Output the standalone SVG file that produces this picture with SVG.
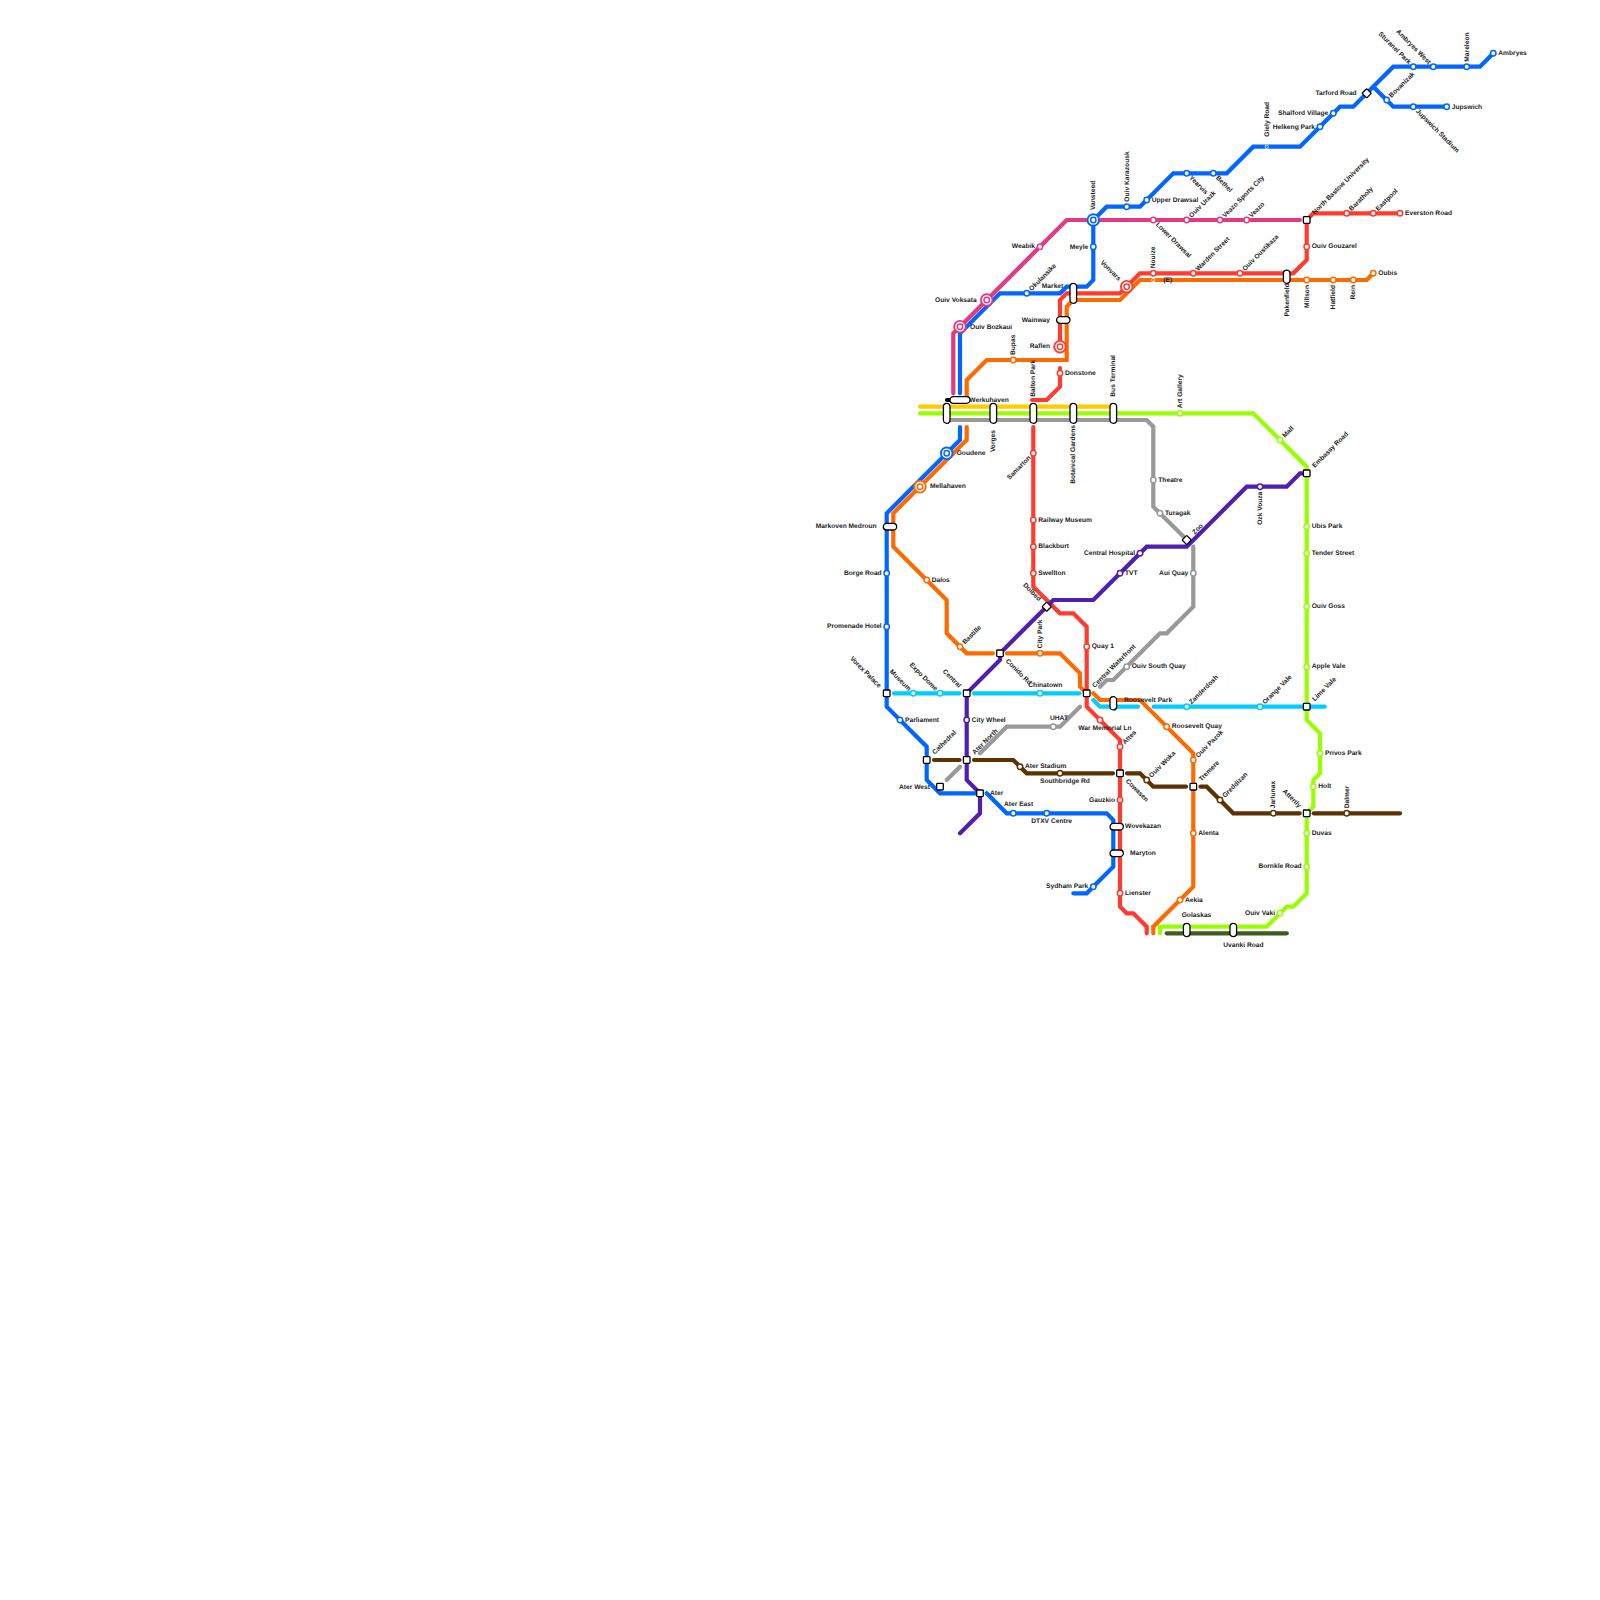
<svg xmlns="http://www.w3.org/2000/svg" width="1600" height="1600" viewBox="0 0 1600 1600">
<style>
text{font-family:"Liberation Sans",Arial,sans-serif;font-size:6.67px;font-weight:bold;fill:#1c1c1c;text-rendering:geometricPrecision}
.e{text-anchor:end}
.ln path{fill:none;stroke-width:4.2;stroke-linecap:round;stroke-linejoin:miter}
.lb{stroke:#0066ff}.lp{stroke:#e5397f}.lr{stroke:#ff3b30}.lo{stroke:#ff6a00}.ly{stroke:#ffcc00}.lg{stroke:#99ff00}.la{stroke:#999}.lu{stroke:#4f1fb0}.ln .ld{stroke:#5a3300}.lc{stroke:#00ccff}.lk{stroke:#3f5c1f}
circle{fill:#fff;stroke-width:1.5}
circle.ring{stroke-width:1.9}
.b{stroke:#0066ff}.p{stroke:#e5397f}.r{stroke:#ff3b30}.o{stroke:#ff6a00}.g{stroke:#99ff00}.a{stroke:#999}.u{stroke:#4f1fb0}.d{stroke:#5a3300}.c{stroke:#00ccff}
.x{fill:#fff;stroke:#000;stroke-width:1.3}
</style>
<defs>
<rect id="sq" class="x" x="-3.3" y="-3.3" width="6.6" height="6.6" rx="0.8"/>
<rect id="di" class="x" x="-3.3" y="-3.3" width="6.6" height="6.6" rx="0.8" transform="rotate(45)"/>
<rect id="v20" class="x" x="-3.3" y="-10" width="6.6" height="20" rx="3.3"/>
<rect id="v13" class="x" x="-3.3" y="-6.67" width="6.6" height="13.33" rx="3.3"/>
<rect id="h13" class="x" x="-6.67" y="-3.3" width="13.33" height="6.6" rx="3.3"/>
<rect id="h20" class="x" x="-10" y="-3.3" width="20" height="6.6" rx="3.3"/>
</defs>
<g id="connectors" class="ln">
<path class="ly" d="M920 406.7H1113.3"/>
<path class="lg" d="M920 413.3H1253.3L1306.7 466.7V720L1320 733.3V773.3L1313.3 780V806.7L1306.7 813.3V893.3L1293.3 906.7H1286.7L1266.7 926.7H1160V933.3"/>
<path class="la" d="M946.7 420H1146.7L1153.3 426.7V506.7L1183 536"/>
<path class="la" d="M1193.3 546.7V606.7L1166.7 633.3H1160L1113.3 680H1106.7L1100 686.7"/>
<path class="la" d="M1080 706.7L1060 726.7H1006.7L980 753.3"/>
<path class="la" d="M960 766.7L946.7 780"/>
<path class="lk" d="M1166.7 933.3H1286.7"/>
<path class="lp" d="M1300 220H1066.7L960 326.7L953.3 333.3V393.3"/>
<path class="lb" d="M1493.3 53.3L1480 66.7H1393.3L1353.3 106.7H1340L1300 146.7H1253.3L1226.7 173.3H1173.3L1140 206.7H1106.7L1093.3 220V280L1086.7 286.7H1066.7L1060 293.3H1000L960 333.3V393.3"/>
<path class="lb" d="M1373.3 86.7L1393.3 106.7H1446.7"/>
<path class="lb" d="M960 427V440L886.7 513.3V706.7L926.7 746.7V780L940 793.3H977"/>
<path class="lb" d="M986.7 793.3L1006.7 813.3H1106.7L1113.3 820V866.7L1086.7 893.3H1073.3"/>
<path class="lo" d="M1373.3 273.3L1366.7 280H1140L1120 300H1073.3L1066.7 306.7V360H986.7L966.7 380V396"/>
<path class="lo" d="M966.7 427V440L893.3 513.3V546.7L946.7 600V633.3L966.7 653.3H993"/>
<path class="lo" d="M1007 653.3H1060L1080 673.3V686.7L1086.7 693.3"/>
<path class="lo" d="M1093.3 693.3L1100 700H1140L1193.3 753.3V886.7L1153.3 926.7V933.3"/>
<path class="lr" d="M1400 213.3H1313.3L1306.7 220V260L1293.3 273.3H1140L1120 293.3H1066.7L1060 300V346.7"/>
<path class="lr" d="M1060 368V386.7L1046.7 400H1032"/>
<path class="lr" d="M1033.3 427V586.7L1060 613.3H1073.3L1086.7 626.7V706.7L1120 740V906.7L1126.7 913.3H1133.3L1146.7 926.7V933.3"/>
<path class="lc" d="M894 693.3H959.5"/>
<path class="lc" d="M974 693.3H1079.5"/>
<path class="lc" d="M1093.3 700L1100 706.7H1138"/>
<path class="lc" d="M1153.7 706.7H1324.7"/>
<path class="lu" d="M1306.7 473.3H1300L1286.7 486.7H1246.7L1186.7 546.7H1146.7L1093.3 600H1053.3L1000 653.3V660L966.7 693.3V780L980 793.3V813.3L960 833.3"/>
<path class="ld" d="M934 760H959.5"/>
<path class="ld" d="M974 760H1013.3L1026.7 773.3H1113"/>
<path class="ld" d="M1127 773.3H1140L1153.3 786.7H1186"/>
<path class="ld" d="M1200.5 786.7H1206.7L1233.3 813.3H1299.7"/>
<path class="ld" d="M1313.7 813.3H1400"/>
<path d="M947 400H953" style="stroke:#000"/>
</g>
<g id="nodes">
<g id="n-ambryes"><circle class="b" cx="1493.3" cy="53.3" r="2.7"/><text x="1498.3" y="55.3">Ambryes</text></g>
<g id="n-mareleon"><circle class="b" cx="1466.7" cy="66.7" r="2.7"/><text transform="translate(1466.7 61.7) rotate(-90)" y="2">Mareleon</text></g>
<g id="n-ambryes-west"><circle class="b" cx="1433.3" cy="66.7" r="2.7"/><text class="e" transform="translate(1429.8 63.2) rotate(45)" y="2">Ambryes West</text></g>
<g id="n-sturanel"><circle class="b" cx="1413.3" cy="66.7" r="2.7"/><text class="e" transform="translate(1409.8 63.2) rotate(45)" y="2">Sturanel Park</text></g>
<g id="n-tarford"><use href="#di" x="1366.7" y="93.3"/><text class="e" x="1356.7" y="95.3">Tarford Road</text></g>
<g id="n-bovanizak"><circle class="b" cx="1386.7" cy="100" r="2.7"/><text transform="translate(1390.2 96.5) rotate(-45)" y="2">Bovanizak</text></g>
<g id="n-jupswich-stadium"><circle class="b" cx="1413.3" cy="106.7" r="2.7"/><text transform="translate(1416.8 110.2) rotate(45)" y="2">Jupswich Stadium</text></g>
<g id="n-jupswich"><circle class="b" cx="1446.7" cy="106.7" r="2.7"/><text x="1451.7" y="108.7">Jupswich</text></g>
<g id="n-shalford"><circle class="b" cx="1333.3" cy="113.3" r="2.7"/><text class="e" x="1328.3" y="115.3">Shalford Village</text></g>
<g id="n-helkeng"><circle class="b" cx="1320" cy="126.7" r="2.7"/><text class="e" x="1315" y="128.7">Helkeng Park</text></g>
<g id="n-giely"><circle cx="1266.7" cy="146.7" r="2" style="stroke:none"/><circle class="b" cx="1266.7" cy="146.7" r="0.5" style="fill:#0066ff"/><text transform="translate(1266.7 136.7) rotate(-90)" y="2">Giely Road</text></g>
<g id="n-bethel"><circle class="b" cx="1213.3" cy="173.3" r="2.7"/><text transform="translate(1216.8 176.8) rotate(45)" y="2">Bethel</text></g>
<g id="n-yearvis"><circle class="b" cx="1186.7" cy="173.3" r="2.7"/><text transform="translate(1190.2 176.8) rotate(45)" y="2">Yearvis</text></g>
<g id="n-upper-drawsal"><circle class="b" cx="1146.7" cy="200" r="2.7"/><text x="1151.7" y="202">Upper Drawsal</text></g>
<g id="n-karazousk"><circle class="b" cx="1126.7" cy="206.7" r="2.7"/><text transform="translate(1126.7 201.7) rotate(-90)" y="2">Ouiv Karazousk</text></g>
<g id="n-vansteed"><circle class="b ring" cx="1093.3" cy="220" r="5.8"/><circle class="b" cx="1093.3" cy="220" r="2.7"/><text transform="translate(1093.3 210) rotate(-90)" y="2">Vansteed</text></g>
<g id="n-meyle"><circle class="b" cx="1093.3" cy="246.7" r="2.7"/><text class="e" x="1088.3" y="248.7">Meyle</text></g>
<g id="n-market"><use href="#v20" x="1073.3" y="293.3"/><text class="e" x="1063.3" y="288">Market</text></g>
<g id="n-okulansike"><circle class="b" cx="1026.7" cy="293.3" r="2.7"/><text transform="translate(1030.2 289.8) rotate(-45)" y="2">Okulansike</text></g>
<g id="n-bozkaui"><circle class="p ring" cx="960" cy="326.7" r="5.8"/><circle class="p" cx="960" cy="326.7" r="2.7"/><text x="970" y="328.7">Ouiv Bozkaui</text></g>
<g id="n-voksata"><circle class="p ring" cx="986.7" cy="300" r="5.8"/><circle class="p" cx="986.7" cy="300" r="2.7"/><text class="e" x="976.7" y="302">Ouiv Voksata</text></g>
<g id="n-goudene"><circle class="b ring" cx="946.7" cy="453.3" r="5.8"/><circle class="b" cx="946.7" cy="453.3" r="2.7"/><text x="956.7" y="455">Goudene</text></g>
<g id="n-mellahaven"><circle class="o ring" cx="920" cy="486.7" r="5.8"/><circle class="o" cx="920" cy="486.7" r="2.7"/><text x="930" y="488.4">Mellahaven</text></g>
<g id="n-markoven"><use href="#h13" x="890" y="526.7"/><text class="e" x="876.7" y="528.4">Markoven Medroun</text></g>
<g id="n-borge"><circle class="b" cx="886.7" cy="573.3" r="2.7"/><text class="e" x="881.7" y="575">Borge Road</text></g>
<g id="n-promenade"><circle class="b" cx="886.7" cy="626.7" r="2.7"/><text class="e" x="881.7" y="628.4">Promenade Hotel</text></g>
<g id="n-vorex"><use href="#sq" x="886.7" y="693.3"/><text class="e" transform="translate(880 686.6) rotate(45)" y="2">Vorex Palace</text></g>
<g id="n-museum"><circle class="c" cx="913.3" cy="693.3" r="2.7"/><text class="e" transform="translate(909.8 689.8) rotate(45)" y="2">Museum</text></g>
<g id="n-expo"><circle class="c" cx="940" cy="693.3" r="2.7"/><text class="e" transform="translate(936.5 689.8) rotate(45)" y="2">Expo Dome</text></g>
<g id="n-central"><use href="#sq" x="966.7" y="693.3"/><text class="e" transform="translate(960 686.6) rotate(45)" y="2">Central</text></g>
<g id="n-parliament"><circle class="b" cx="900" cy="720" r="2.7"/><text x="905" y="722">Parliament</text></g>
<g id="n-city-wheel"><circle class="u" cx="966.7" cy="720" r="2.7"/><text x="971.7" y="722">City Wheel</text></g>
<g id="n-cathedral"><use href="#sq" x="926.7" y="760"/><text transform="translate(933.4 753.3) rotate(-45)" y="2">Cathedral</text></g>
<g id="n-ater-north"><use href="#sq" x="966.7" y="760"/><text transform="translate(973.4 753.3) rotate(-45)" y="2">Ater North</text></g>
<g id="n-ater-west"><use href="#sq" x="940" y="786.7"/><text class="e" x="930" y="788.6">Ater West</text></g>
<g id="n-ater"><use href="#sq" x="980" y="793.3"/><text x="990" y="795">Ater</text></g>
<g id="n-ater-east"><circle class="b" cx="1013.3" cy="813.3" r="2.7"/><text x="1004" y="806.4">Ater East</text></g>
<g id="n-dtxv"><circle class="b" cx="1046.7" cy="813.3" r="2.7"/><text x="1031.3" y="823">DTXV Centre</text></g>
<g id="n-sydham"><circle class="b" cx="1093.3" cy="886.7" r="2.7"/><text class="e" x="1088.3" y="888.4">Sydham Park</text></g>
<g id="n-conido"><use href="#sq" x="1000" y="653.3"/><text transform="translate(1006.7 660) rotate(45)" y="2">Conido Rd</text></g>
<g id="n-chinatown"><circle class="c" cx="1040" cy="693.3" r="2.7"/><text x="1028.3" y="686.5">Chinatown</text></g>
<g id="n-uhat"><circle class="a" cx="1053.3" cy="726.7" r="2.7"/><text x="1050" y="719.5">UHAT</text></g>
<g id="n-ater-stadium"><circle class="d" cx="1020" cy="766.7" r="2.7"/><text x="1025" y="767.8">Ater Stadium</text></g>
<g id="n-southbridge"><circle class="d" cx="1060" cy="773.3" r="2.7"/><text x="1040" y="783">Southbridge Rd</text></g>
<g id="n-bastille"><circle class="o" cx="960" cy="646.7" r="2.7"/><text transform="translate(963.5 643.2) rotate(-45)" y="2">Bastille</text></g>
<g id="n-city-park"><circle class="o" cx="1040" cy="653.3" r="2.7"/><text transform="translate(1040 648.3) rotate(-90)" y="2">City Park</text></g>
<g id="n-dalos"><circle class="o" cx="926.7" cy="580" r="2.7"/><text x="931.7" y="581.8">Dalos</text></g>
<g id="n-bupas"><circle class="o" cx="1013.3" cy="360" r="2.7"/><text transform="translate(1013.3 355) rotate(-90)" y="2">Bupas</text></g>
<g id="n-balton"><use href="#v20" x="1033.3" y="413.3"/><text transform="translate(1033.3 396.7) rotate(-90)" y="2">Balton Park</text></g>
<g id="n-vorges"><use href="#v20" x="993.3" y="413.3"/><text class="e" transform="translate(993.3 430) rotate(-90)" y="2">Vorges</text></g>
<g id="n-botanical"><use href="#v20" x="1073.3" y="413.3"/><text class="e" transform="translate(1073.3 425) rotate(-90)" y="2">Botanical Gardens</text></g>
<g id="n-bus-terminal"><use href="#v20" x="1113.3" y="413.3"/><text transform="translate(1113.3 396.7) rotate(-90)" y="2">Bus Terminal</text></g>
<g id="n-west-pill"><use href="#v20" x="946.7" y="413.3"/></g>
<g id="n-werkuhaven"><use href="#h20" x="960" y="400"/><text x="969.3" y="401.6">Werkuhaven</text></g>
<g id="n-weabik"><circle class="p" cx="1040" cy="246.7" r="2.7"/><text class="e" x="1035" y="248.4">Weabik</text></g>
<g id="n-lower-drawsal"><circle class="p" cx="1153.3" cy="220" r="2.7"/><text transform="translate(1156.8 223.5) rotate(45)" y="2">Lower Drawsal</text></g>
<g id="n-urazk"><circle class="p" cx="1186.7" cy="220" r="2.7"/><text transform="translate(1190.2 216.5) rotate(-45)" y="2">Ouiv Urazk</text></g>
<g id="n-veazo-sc"><circle class="p" cx="1220" cy="220" r="2.7"/><text transform="translate(1223.5 216.5) rotate(-45)" y="2">Veazo Sports City</text></g>
<g id="n-veazo"><circle class="p" cx="1246.7" cy="220" r="2.7"/><text transform="translate(1250.2 216.5) rotate(-45)" y="2">Veazo</text></g>
<g id="n-bastow"><use href="#sq" x="1306.7" y="220"/><text transform="translate(1313.4 213.3) rotate(-45)" y="2">North Bastow University</text></g>
<g id="n-baratholy"><circle class="r" cx="1346.7" cy="213.3" r="2.7"/><text transform="translate(1350.2 209.8) rotate(-45)" y="2">Baratholy</text></g>
<g id="n-eastpool"><circle class="r" cx="1373.3" cy="213.3" r="2.7"/><text transform="translate(1376.8 209.8) rotate(-45)" y="2">Eastpool</text></g>
<g id="n-everston"><circle class="r" cx="1400" cy="213.3" r="2.7"/><text x="1405" y="215">Everston Road</text></g>
<g id="n-gouzarel"><circle class="r" cx="1306.7" cy="246.7" r="2.7"/><text x="1311.7" y="248.4">Ouiv Gouzarel</text></g>
<g id="n-oustikaza"><circle class="r" cx="1240" cy="273.3" r="2.7"/><text transform="translate(1243.5 269.8) rotate(-45)" y="2">Ouiv Oustikaza</text></g>
<g id="n-warden"><circle class="r" cx="1193.3" cy="273.3" r="2.7"/><text transform="translate(1196.8 269.8) rotate(-45)" y="2">Warden Street</text></g>
<g id="n-nouize"><circle class="r" cx="1153.3" cy="273.3" r="2.7"/><text transform="translate(1153.3 268.3) rotate(-90)" y="2">Nouize</text></g>
<g id="n-e"><circle cx="1153.3" cy="280" r="2" style="stroke:none"/><circle class="o" cx="1153.3" cy="280" r="0.5" style="fill:#ff6a00"/><text x="1163.3" y="282">(E)</text></g>
<g id="n-vonvars"><circle class="r ring" cx="1126.7" cy="286.7" r="5.8"/><circle class="r" cx="1126.7" cy="286.7" r="2.7"/><text class="e" transform="translate(1119.7 279.7) rotate(45)" y="2">Vonvars</text></g>
<g id="n-pakenfield"><use href="#v13" x="1286.7" y="276.7"/><text class="e" transform="translate(1286.7 283.3) rotate(-90)" y="2">Pakenfield</text></g>
<g id="n-millson"><circle class="o" cx="1306.7" cy="280" r="2.7"/><text class="e" transform="translate(1306.7 285) rotate(-90)" y="2">Millson</text></g>
<g id="n-hatfield"><circle class="o" cx="1333.3" cy="280" r="2.7"/><text class="e" transform="translate(1333.3 285) rotate(-90)" y="2">Hatfield</text></g>
<g id="n-rein"><circle class="o" cx="1353.3" cy="280" r="2.7"/><text class="e" transform="translate(1353.3 285) rotate(-90)" y="2">Rein</text></g>
<g id="n-oubis"><circle class="o" cx="1373.3" cy="273.3" r="2.7"/><text x="1378.3" y="275">Oubis</text></g>
<g id="n-wainway"><use href="#h13" x="1063.3" y="320"/><text class="e" x="1050" y="321.7">Wainway</text></g>
<g id="n-raflen"><circle class="r ring" cx="1060" cy="346.7" r="5.8"/><circle class="r" cx="1060" cy="346.7" r="2.7"/><text class="e" x="1050" y="348.4">Raflen</text></g>
<g id="n-donstone"><circle class="r" cx="1060" cy="373.3" r="2.7"/><text x="1065" y="375">Donstone</text></g>
<g id="n-art-gallery"><circle class="g" cx="1180" cy="413.3" r="2.7"/><text transform="translate(1180 408.3) rotate(-90)" y="2">Art Gallery</text></g>
<g id="n-mall"><circle class="g" cx="1280" cy="440" r="2.7"/><text transform="translate(1283.5 436.5) rotate(-45)" y="2">Mall</text></g>
<g id="n-embassy"><use href="#sq" x="1306.7" y="473.3"/><text transform="translate(1313.4 466.6) rotate(-45)" y="2">Embassy Road</text></g>
<g id="n-ubis"><circle class="g" cx="1306.7" cy="526.7" r="2.7"/><text x="1311.7" y="528.4">Ubis Park</text></g>
<g id="n-tender"><circle class="g" cx="1306.7" cy="553.3" r="2.7"/><text x="1311.7" y="555">Tender Street</text></g>
<g id="n-goss"><circle class="g" cx="1306.7" cy="606.7" r="2.7"/><text x="1311.7" y="608.4">Ouiv Goss</text></g>
<g id="n-apple"><circle class="g" cx="1306.7" cy="666.7" r="2.7"/><text x="1311.7" y="668.4">Apple Vale</text></g>
<g id="n-lime"><use href="#sq" x="1306.7" y="706.7"/><text transform="translate(1313.4 700) rotate(-45)" y="2">Lime Vale</text></g>
<g id="n-privos"><circle class="g" cx="1320" cy="753.3" r="2.7"/><text x="1325" y="755">Privos Park</text></g>
<g id="n-holt"><circle class="g" cx="1313.3" cy="786.7" r="2.7"/><text x="1318.3" y="788.4">Holt</text></g>
<g id="n-atterily"><use href="#sq" x="1306.7" y="813.3"/><text class="e" transform="translate(1300 806.6) rotate(45)" y="2">Atterily</text></g>
<g id="n-duvas"><circle class="g" cx="1306.7" cy="833.3" r="2.7"/><text x="1311.7" y="835">Duvas</text></g>
<g id="n-bornkle"><circle class="g" cx="1306.7" cy="866.7" r="2.7"/><text class="e" x="1301.7" y="868.4">Bornkle Road</text></g>
<g id="n-vaki"><circle class="g" cx="1280" cy="913.3" r="2.7"/><text class="e" x="1275" y="915">Ouiv Vaki</text></g>
<g id="n-dalmer"><circle class="d" cx="1346.7" cy="813.3" r="2.7"/><text transform="translate(1346.7 808.3) rotate(-90)" y="2">Dalmer</text></g>
<g id="n-jarlunax"><circle class="d" cx="1273.3" cy="813.3" r="2.7"/><text transform="translate(1273.3 808.3) rotate(-90)" y="2">Jarlunax</text></g>
<g id="n-greddizan"><circle class="d" cx="1220" cy="800" r="2.7"/><text transform="translate(1223.5 796.5) rotate(-45)" y="2">Greddizan</text></g>
<g id="n-tremere"><use href="#sq" x="1193.3" y="786.7"/><text transform="translate(1200 780) rotate(-45)" y="2">Tremere</text></g>
<g id="n-cowasen"><use href="#sq" x="1120" y="773.3"/><text transform="translate(1126.7 780) rotate(45)" y="2">Cowasen</text></g>
<g id="n-gauzkio"><circle class="r" cx="1120" cy="800" r="2.7"/><text class="e" x="1115" y="801.7">Gauzkio</text></g>
<g id="n-wovekazan"><use href="#h13" x="1116.7" y="826.7"/><text x="1125" y="828.3">Wovekazan</text></g>
<g id="n-maryton"><use href="#h13" x="1116.7" y="853.3"/><text x="1130" y="855">Maryton</text></g>
<g id="n-lienster"><circle class="r" cx="1120" cy="893.3" r="2.7"/><text x="1125" y="895">Lienster</text></g>
<g id="n-aekia"><circle class="o" cx="1180" cy="900" r="2.7"/><text x="1185" y="901.7">Aekia</text></g>
<g id="n-alenta"><circle class="o" cx="1193.3" cy="833.3" r="2.7"/><text x="1198.3" y="835">Alenta</text></g>
<g id="n-pazok"><circle class="o" cx="1193.3" cy="760" r="2.7"/><text transform="translate(1196.8 756.5) rotate(-45)" y="2">Ouiv Pazok</text></g>
<g id="n-roosevelt-quay"><circle class="o" cx="1166.7" cy="726.7" r="2.7"/><text x="1171.7" y="728.4">Roosevelt Quay</text></g>
<g id="n-roosevelt-park"><use href="#v13" x="1113.3" y="703.3"/><text x="1124" y="701.6">Roosevelt Park</text></g>
<g id="n-zanderdosh"><circle class="c" cx="1186.7" cy="706.7" r="2.7"/><text transform="translate(1190.2 703.2) rotate(-45)" y="2">Zanderdosh</text></g>
<g id="n-orange-vale"><circle class="c" cx="1260" cy="706.7" r="2.7"/><text transform="translate(1263.5 703.2) rotate(-45)" y="2">Orange Vale</text></g>
<g id="n-woka"><circle class="d" cx="1146.7" cy="780" r="2.7"/><text transform="translate(1150.2 776.5) rotate(-45)" y="2">Ouiv Woka</text></g>
<g id="n-attes"><circle class="r" cx="1120" cy="746.7" r="2.7"/><text transform="translate(1123.5 743.2) rotate(-45)" y="2">Attes</text></g>
<g id="n-war-memorial"><circle class="r" cx="1100" cy="720" r="2.7"/><text x="1078.3" y="729.5">War Memorial Ln</text></g>
<g id="n-waterfront"><use href="#sq" x="1086.7" y="693.3"/><text transform="translate(1093.4 686.6) rotate(-45)" y="2">Central Waterfront</text></g>
<g id="n-south-quay"><circle class="a" cx="1126.7" cy="666.7" r="2.7"/><text x="1131.7" y="668.4">Ouiv South Quay</text></g>
<g id="n-quay1"><circle class="r" cx="1086.7" cy="646.7" r="2.7"/><text x="1091.7" y="648.4">Quay 1</text></g>
<g id="n-swellton"><circle class="r" cx="1033.3" cy="573.3" r="2.7"/><text x="1038.3" y="575">Swellton</text></g>
<g id="n-blackburt"><circle class="r" cx="1033.3" cy="546.7" r="2.7"/><text x="1038.3" y="548.4">Blackburt</text></g>
<g id="n-railway"><circle class="r" cx="1033.3" cy="520" r="2.7"/><text x="1038.3" y="521.7">Railway Museum</text></g>
<g id="n-samarton"><circle class="r" cx="1033.3" cy="453.3" r="2.7"/><text class="e" transform="translate(1029.8 456.8) rotate(-45)" y="2">Samarton</text></g>
<g id="n-dolbed"><use href="#di" x="1046.7" y="606.7"/><text class="e" transform="translate(1040 600) rotate(45)" y="2">Dolbed</text></g>
<g id="n-tvt"><circle class="u" cx="1120" cy="573.3" r="2.7"/><text x="1125" y="575">TVT</text></g>
<g id="n-hospital"><circle class="u" cx="1140" cy="553.3" r="2.7"/><text class="e" x="1135" y="555">Central Hospital</text></g>
<g id="n-ozk"><circle class="u" cx="1260" cy="486.7" r="2.7"/><text class="e" transform="translate(1260 491.7) rotate(-90)" y="2">Ozk Vouza</text></g>
<g id="n-zoo"><use href="#di" x="1186.7" y="540"/><text transform="translate(1193.4 533.3) rotate(-45)" y="2">Zoo</text></g>
<g id="n-theatre"><circle class="a" cx="1153.3" cy="480" r="2.7"/><text x="1158.3" y="481.7">Theatre</text></g>
<g id="n-turagak"><circle class="a" cx="1160" cy="513.3" r="2.7"/><text x="1165" y="515">Turagak</text></g>
<g id="n-aui"><circle class="a" cx="1193.3" cy="573.3" r="2.7"/><text class="e" x="1188.3" y="575">Aui Quay</text></g>
<g id="n-golaskas"><use href="#v13" x="1186.7" y="930"/><text x="1181.7" y="916.5">Golaskas</text></g>
<g id="n-uvanki"><use href="#v13" x="1233.3" y="930"/><text x="1223.3" y="946.5">Uvanki Road</text></g>
</g>
</svg>
